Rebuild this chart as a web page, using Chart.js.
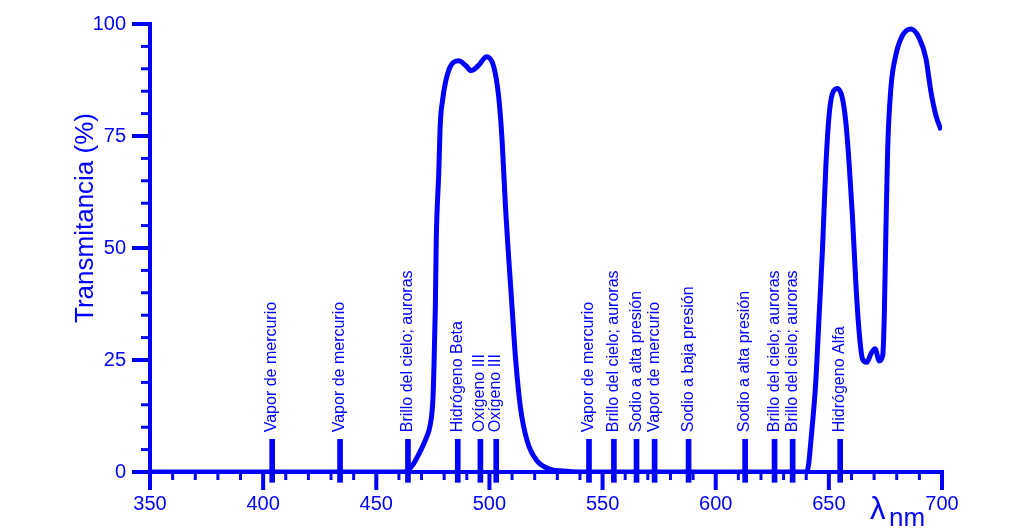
<!DOCTYPE html>
<html><head><meta charset="utf-8">
<script src="https://cdn.jsdelivr.net/npm/chart.js@4"></script>
<style>html,body{margin:0;padding:0;background:#fff;}canvas{display:block;}</style>
</head><body>
<canvas id="c" width="1029" height="529"></canvas>
<script>
// ---- data ----
const wavelengths = [350,400,450,462.5,466,469.5,472,473.9,475,475.4,476.1,476.5,477.6,478.3,479.3,480.5,482.7,486.4,489.4,491.9,495.3,498.7,501.9,504.1,505.6,507.1,508.5,510,511.5,513.7,516.7,521,527,532.7,540,600,640,641,642,644.2,645.7,647.2,648.7,650.1,651.6,653.8,656,657.5,659,660.4,661.9,663.4,664.9,666.8,668.6,670.4,672.3,673.8,674.5,675.2,676,677.4,679.6,682.6,686.3,690,692.9,695.1,697.3,699.6];
const transmittance = [0,0,0,0,1.5,4.7,7.5,10.7,16,21.9,36.8,51.7,66.7,77.9,83,86.8,90.5,91.8,90.8,89.6,90.8,92.7,90.5,83.7,74,59.1,47.9,36.8,25.6,14.4,6.9,2.5,0.6,0.2,0,0,0,1.5,6.6,20,34.9,49.9,68.5,79.6,84.5,85.6,83.4,78.1,68.5,57.3,42.4,31.2,25.2,24.5,26.4,27.5,24.8,26,34.9,53.5,72.2,85.6,93.1,97.5,98.9,96.8,92.3,84.9,79.6,76.3];
const lineWavelengths = [404,434,464,486,496,503,544,555,565,573,588,613,626,634,655];
const lineNames = ["Vapor de mercurio","Vapor de mercurio","Brillo del cielo; auroras","Hidrógeno Beta","Oxígeno III","Oxígeno III","Vapor de mercurio","Brillo del cielo; auroras","Sodio a alta presión","Vapor de mercurio","Sodio a baja presión","Sodio a alta presión","Brillo del cielo; auroras","Brillo del cielo; auroras","Hidrógeno Alfa"];
const markerRange = [-2.3, 7.3];
const xTickValues = [350,400,450,500,550,600,650,700];
const yTickValues = [0,25,50,75,100];
const yTitle = "Transmitancia (%)";
const xTitleMain = "λ";
const xTitleSub = "nm";

const BLUE = '#0000ff';
const FONT = "'Liberation Sans', Arial, sans-serif";

const decorPlugin = {
  id: 'decor',
  afterDatasetsDraw(chart) {
    const {ctx, scales: {x, y}} = chart;
    const x0 = x.getPixelForValue(x.min), x1 = x.getPixelForValue(x.max);
    const y0 = y.getPixelForValue(y.min), y1 = y.getPixelForValue(y.max);
    ctx.save();
    ctx.strokeStyle = BLUE;
    ctx.fillStyle = BLUE;
    ctx.lineCap = 'butt';
    // axis lines
    ctx.lineWidth = 4;
    ctx.beginPath(); ctx.moveTo(x0 - 18, y0); ctx.lineTo(x1 + 2, y0); ctx.stroke();
    ctx.beginPath(); ctx.moveTo(x0, y1 - 2); ctx.lineTo(x0, y0 + 18); ctx.stroke();
    // y ticks
    for (let v = y.min; v <= y.max; v += 5) {
      const p = y.getPixelForValue(v);
      const major = yTickValues.includes(v);
      ctx.lineWidth = major ? 4 : 3;
      ctx.beginPath(); ctx.moveTo(x0 - (major ? 18 : 9), p); ctx.lineTo(x0, p); ctx.stroke();
    }
    // x ticks
    for (let v = x.min; v <= x.max; v += 10) {
      const p = x.getPixelForValue(v);
      const major = xTickValues.includes(v);
      ctx.lineWidth = major ? 4 : 3;
      ctx.beginPath(); ctx.moveTo(p, y0); ctx.lineTo(p, y0 + (major ? 18 : 8)); ctx.stroke();
    }
    // emission line labels
    ctx.font = "16px " + FONT;
    ctx.textAlign = 'left';
    ctx.textBaseline = 'alphabetic';
    const top = y.getPixelForValue(markerRange[1]);
    lineWavelengths.forEach((lam, i) => {
      const px = x.getPixelForValue(lam);
      ctx.save();
      ctx.translate(px + 4, top - 7);
      ctx.rotate(-Math.PI / 2);
      ctx.fillText(lineNames[i], 0, 0);
      ctx.restore();
    });
    // y title
    ctx.save();
    ctx.font = "26px " + FONT;
    ctx.textAlign = 'center';
    ctx.textBaseline = 'alphabetic';
    ctx.translate(93, 218);
    ctx.rotate(-Math.PI / 2);
    ctx.fillText(yTitle, 0, 0);
    ctx.restore();
    // x title
    ctx.font = "31px " + FONT;
    ctx.textAlign = 'left';
    ctx.fillText(xTitleMain, 870, 519);
    ctx.font = "26px " + FONT;
    ctx.fillText(xTitleSub, 889, 526);
    ctx.restore();
  }
};

new Chart(document.getElementById('c'), {
  type: 'line',
  data: {
    datasets: [
      {
        type: 'line',
        data: wavelengths.map((v, i) => ({x: v, y: transmittance[i]})),
        borderColor: BLUE,
        borderWidth: 5,
        pointRadius: 0,
        cubicInterpolationMode: 'monotone',
        fill: false,
        order: 1
      },
      {
        type: 'bar',
        data: lineWavelengths.map(v => ({x: v, y: markerRange})),
        backgroundColor: BLUE,
        borderWidth: 0,
        barThickness: 5,
        grouped: false,
        clip: false,
        order: 2
      }
    ]
  },
  options: {
    responsive: false,
    animation: false,
    devicePixelRatio: 1,
    layout: {padding: {left: 0, right: 87, top: 24, bottom: 0}},
    plugins: {legend: {display: false}, tooltip: {enabled: false}},
    scales: {
      x: {
        type: 'linear', min: 350, max: 700, offset: false,
        grid: {display: false, drawTicks: false},
        border: {display: false},
        afterBuildTicks: s => { s.ticks = xTickValues.map(v => ({value: v})); },
        afterFit: s => { s.height = 57; s.paddingLeft = 0; s.paddingRight = 0; },
        ticks: {color: BLUE, font: {family: FONT, size: 20}, padding: 20, maxRotation: 0, autoSkip: false}
      },
      y: {
        type: 'linear', min: 0, max: 100,
        grid: {display: false, drawTicks: false},
        border: {display: false},
        afterBuildTicks: s => { s.ticks = yTickValues.map(v => ({value: v})); },
        afterFit: s => { s.width = 150; s.paddingTop = 0; s.paddingBottom = 0; },
        ticks: {color: BLUE, font: {family: FONT, size: 20}, padding: 24}
      }
    }
  },
  plugins: [decorPlugin]
});
</script>
</body></html>
